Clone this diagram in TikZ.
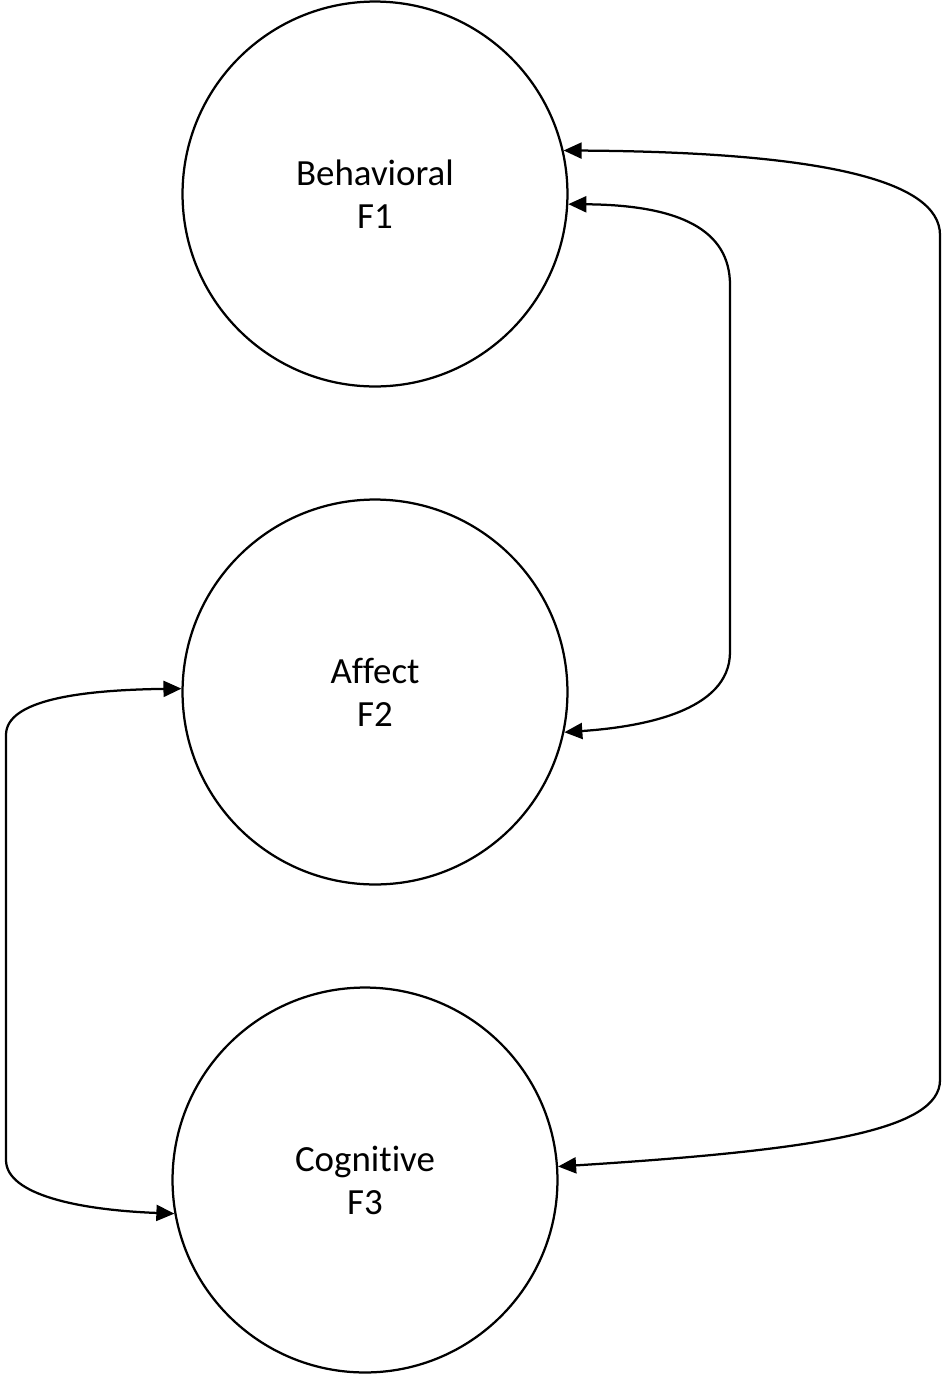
\documentclass[tikz,border=0pt]{standalone}
\usepackage{fontspec}
\setmainfont[Ligatures={NoCommon}]{Carlito}
\usetikzlibrary{arrows.meta}

\begin{document}
\begin{tikzpicture}[x=0.02cm, y=-0.02cm,
	factor/.style={circle, draw, line width=0.45mm, minimum size=7.7cm, align=center, font=\fontsize{21}{24.5}\selectfont},
	corr/.style={line width=0.45mm, {Triangle[length=3.6mm, width=3.2mm]}-{Triangle[length=3.6mm, width=3.2mm]}}]
	\useasboundingbox (0, 0) rectangle (943, 1374);

	\node[factor] (f1) at (375, 194) {Behavioral\\F1};
	\node[factor] (f2) at (375, 692) {Affect\\F2};
	\node[factor] (f3) at (365, 1180) {Cognitive\\F3};

	% bend points of the connectors
	\coordinate (r1) at (940, 1080);
	\coordinate (r2) at (940, 235);
	\coordinate (m1) at (730, 285);
	\coordinate (m2) at (730, 652);
	\coordinate (l1) at (6, 735);
	\coordinate (l2) at (6, 1160);

	% Draw the correlations between the factors
	\draw[corr] (f3.4) .. controls (820, 1150) and (940, 1130) .. (r1) -- (r2) .. controls (940, 180) and (820, 152) .. (f1.13);
	\draw[corr] (f1.-3) .. controls (680, 205) and (730, 230) .. (m1) -- (m2) .. controls (730, 712) and (640, 727) .. (f2.-12);
	\draw[corr] (f2.179) .. controls (80, 690) and (6, 700) .. (l1) -- (l2) .. controls (6, 1195) and (80, 1210) .. (f3.-170);
\end{tikzpicture}
\end{document}
